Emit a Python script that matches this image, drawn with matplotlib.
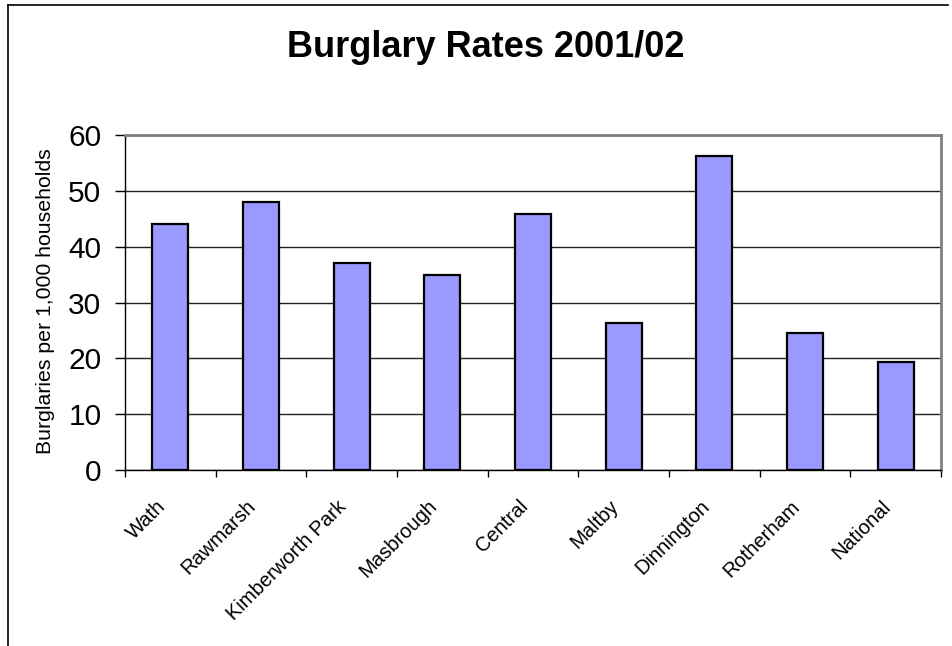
import matplotlib
matplotlib.use("Agg")
import matplotlib.pyplot as plt
from matplotlib.lines import Line2D
from matplotlib.transforms import ScaledTranslation
import numpy as np

categories = ["Wath", "Rawmarsh", "Kimberworth Park", "Masbrough", "Central",
              "Maltby", "Dinnington", "Rotherham", "National"]
values = [44.0, 48.0, 37.1, 34.9, 45.9, 26.3, 56.2, 24.5, 19.3]
yticks = [0, 10, 20, 30, 40, 50, 60]
title = "Burglary Rates 2001/02"
ylabel = "Burglaries per 1,000 households"

plt.rcParams['font.family'] = ['Liberation Sans', 'DejaVu Sans']

W, H = 952, 646
fig = plt.figure(figsize=(W / 100, H / 100), dpi=100)
fig.patch.set_facecolor("white")

ax = fig.add_axes([125 / W, (H - 470) / H, 816 / W, 335 / H])
x = np.arange(len(categories))
ax.bar(x, values, width=0.4, color="#9999FF", edgecolor="black", linewidth=1.6, zorder=3)

ax.set_xlim(-0.5, len(categories) - 0.5)
ax.set_ylim(0, 60)
ax.set_yticks(yticks)
ax.set_yticklabels([str(v) for v in yticks], fontsize=21.5)
ax.yaxis.grid(True, color="#222222", linewidth=1.0, zorder=0)
ax.set_axisbelow(True)

for s in ["top", "right"]:
    ax.spines[s].set_color("#808080")
    ax.spines[s].set_linewidth(2.0)
for s in ["left", "bottom"]:
    ax.spines[s].set_color("black")
    ax.spines[s].set_linewidth(1.0)

ax.tick_params(axis="y", direction="out", length=7, width=1, pad=10, colors="black")
ax.set_xticks(x)
ax.set_xticklabels(categories, fontsize=14.5, rotation=45, ha="right", va="center",
                   rotation_mode="anchor")
ax.tick_params(axis="x", which="major", length=0, pad=24)
shift = ScaledTranslation(-8 / 100, 0, fig.dpi_scale_trans)
for lbl in ax.get_xticklabels():
    lbl.set_transform(lbl.get_transform() + shift)
ax.set_xticks(np.arange(-0.5, len(categories), 1.0), minor=True)
ax.tick_params(axis="x", which="minor", direction="out", length=5, width=1, colors="black")

ax.set_ylabel(ylabel, fontsize=15.3, rotation=90, va="center", ha="center")
ax.yaxis.set_label_coords((45 - 125) / 816, (470 - 301) / 335)

fig.text(486 / W, 1 - 57 / H, title, fontsize=26, fontweight="bold",
         ha="center", va="baseline")

# outer chart frame (top and left edges visible)
fig.add_artist(Line2D([8 / W, 8 / W], [0, 1 - 5 / H], transform=fig.transFigure,
                      color="black", linewidth=1.2))
fig.add_artist(Line2D([8 / W, 948 / W], [1 - 5 / H, 1 - 5 / H], transform=fig.transFigure,
                      color="black", linewidth=1.2))

fig.savefig("out.png", dpi=100, facecolor="white")
